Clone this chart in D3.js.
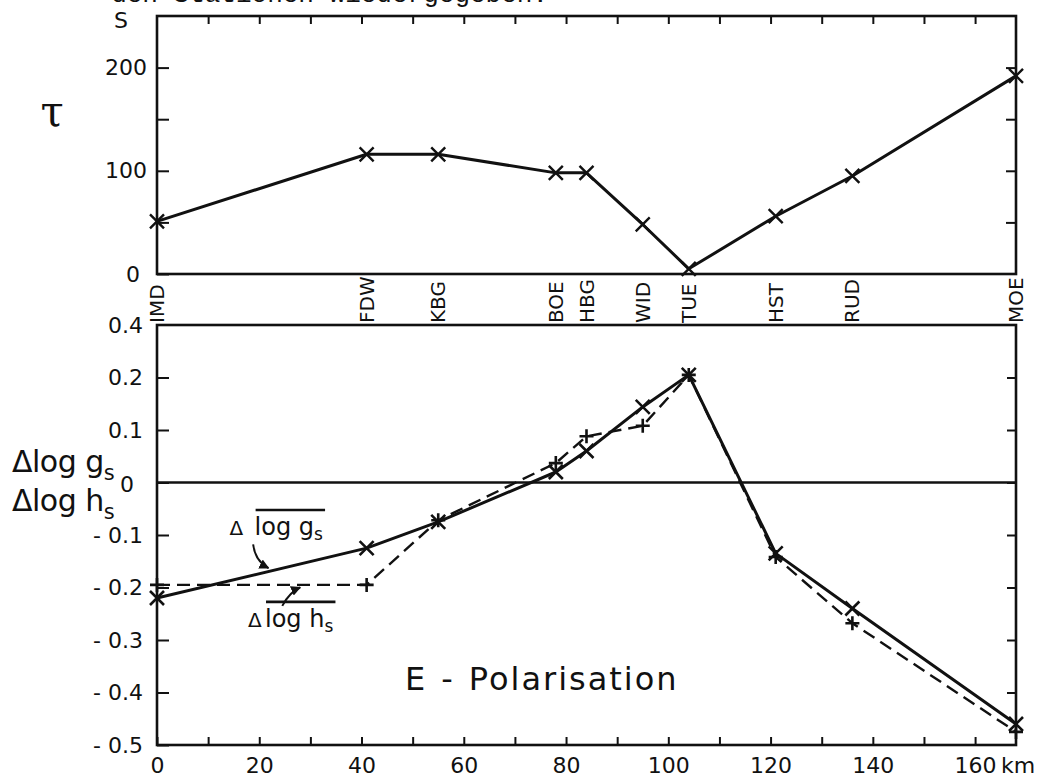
<!DOCTYPE html>
<html>
<head>
<meta charset="utf-8">
<script src="https://cdn.jsdelivr.net/npm/d3@7"></script>
<style>
  body { margin: 0; background: #fff; }
  svg { display: block; }
  text { font-family: "DejaVu Sans", sans-serif; fill: #111; }
</style>
</head>
<body>
<div id="chart"></div>
<script>
// stations along the profile, distance in km from IMD
var stations = ['IMD', 'FDW', 'KBG', 'BOE', 'HBG', 'WID', 'TUE', 'HST', 'RUD', 'MOE'];
var distKm = [0, 41, 55, 78, 84, 95, 104, 121, 136, 168];
// tau in s (upper panel)
var tau = [51, 116, 116, 98, 98, 48, 5, 56, 95, 192];
// E-polarisation, mean delta log g_s (solid) and delta log h_s (dashed)
var dLogG = [-0.22, -0.125, -0.075, 0.02, 0.06, 0.144, 0.205, -0.135, -0.24, -0.46];
var dLogH = [-0.195, -0.195, -0.072, 0.037, 0.088, 0.108, 0.205, -0.142, -0.268, -0.475];

var kmTicks = d3.range(0, 161, 10);
var tauTicks = [0, 50, 100, 150, 200];
var tauTickLabels = ['0', '', '100', '', '200'];
var logTicks = [0.3, 0.2, 0.1, 0, -0.1, -0.2, -0.3, -0.4, -0.5];
var logTickLabels = ['0.4', '0.2', '0.1', '0', '- 0.1', '- 0.2', '- 0.3', '- 0.4', '- 0.5'];

var width = 1037;
var height = 778;
var ink = '#111';

var svg = d3.select('#chart').append('svg')
    .attr('width', width)
    .attr('height', height);

// page text cut off at the top of the scan
svg.append('text')
    .attr('x', 548).attr('y', 2)
    .attr('text-anchor', 'end')
    .style('font-family', '"Liberation Mono", monospace')
    .style('font-size', '26px')
    .text('den Stationen wiedergegeben:');

var x = d3.scaleLinear().domain([0, 168]).range([157, 1016]);
var yTau = d3.scaleLinear().domain([0, 250]).range([274, 16]);
var yLog = d3.scaleLinear().domain([-0.5, 0.3]).range([745, 325]);

function frame(y) {
    svg.append('rect')
        .attr('x', x.range()[0]).attr('y', y.range()[1])
        .attr('width', x.range()[1] - x.range()[0])
        .attr('height', y.range()[0] - y.range()[1])
        .attr('fill', 'none').attr('stroke', ink).attr('stroke-width', 2.6);
}

function styleAxis(g, size) {
    g.select('.domain').remove();
    g.selectAll('.tick line').attr('stroke', ink).attr('stroke-width', 2);
    g.selectAll('.tick text').style('font-size', size + 'px').attr('fill', ink);
}

function crossPath(cx, cy, r) {
    return 'M' + (cx - r) + ',' + (cy - r) + 'L' + (cx + r) + ',' + (cy + r) +
        'M' + (cx - r) + ',' + (cy + r) + 'L' + (cx + r) + ',' + (cy - r);
}
function plusPath(cx, cy, r) {
    return 'M' + (cx - r) + ',' + cy + 'L' + (cx + r) + ',' + cy +
        'M' + cx + ',' + (cy - r) + 'L' + cx + ',' + (cy + r);
}

// ---------- upper panel: tau ----------
frame(yTau);

svg.append('g')
    .attr('transform', 'translate(0,' + yTau.range()[1] + ')')
    .call(d3.axisTop(x).tickValues(kmTicks.slice(1)).tickSizeInner(-8).tickSizeOuter(0).tickFormat(''))
    .call(styleAxis, 20);

svg.append('g')
    .attr('transform', 'translate(' + x.range()[0] + ',0)')
    .call(d3.axisLeft(yTau).tickValues(tauTicks).tickSizeInner(-12).tickSizeOuter(0).tickPadding(10)
        .tickFormat(function (d, i) { return tauTickLabels[i]; }))
    .call(styleAxis, 22)
    .call(function (g) {
        g.selectAll('.tick text').filter(function (d) { return d === 0; }).attr('dx', -7);
    });

svg.append('g')
    .attr('transform', 'translate(' + x.range()[1] + ',0)')
    .call(d3.axisRight(yTau).tickValues(tauTicks.slice(1)).tickSizeInner(-10).tickSizeOuter(0).tickFormat(''))
    .call(styleAxis, 20);

svg.append('text')
    .attr('x', 121).attr('y', 28)
    .attr('text-anchor', 'middle')
    .style('font-size', '22px')
    .text('S');

svg.append('text')
    .attr('x', 52).attr('y', 126)
    .attr('text-anchor', 'middle')
    .style('font-size', '42px')
    .style('font-family', '"DejaVu Serif", serif')
    .text('\u03c4');

var tauData = distKm.map(function (d, i) { return { km: d, v: tau[i] }; });

svg.append('path')
    .datum(tauData)
    .attr('fill', 'none').attr('stroke', ink).attr('stroke-width', 3)
    .attr('stroke-linejoin', 'round')
    .attr('d', d3.line().x(function (d) { return x(d.km); }).y(function (d) { return yTau(d.v); }));

svg.selectAll('.tauMark')
    .data(tauData)
    .enter().append('path')
    .attr('class', 'tauMark')
    .attr('fill', 'none').attr('stroke', ink).attr('stroke-width', 2.4)
    .attr('d', function (d) { return crossPath(x(d.km), yTau(d.v), 7); });

// station names between the panels
svg.selectAll('.station')
    .data(stations)
    .enter().append('text')
    .attr('class', 'station')
    .attr('transform', function (d, i) { return 'translate(' + (x(distKm[i]) + 7) + ',323) rotate(-90)'; })
    .style('font-size', '20px')
    .text(function (d) { return d; });

// ---------- lower panel: delta log g_s / h_s ----------
frame(yLog);

svg.append('line')
    .attr('x1', x.range()[0]).attr('x2', x.range()[1])
    .attr('y1', yLog(0)).attr('y2', yLog(0))
    .attr('stroke', ink).attr('stroke-width', 2.6);

svg.append('g')
    .attr('transform', 'translate(0,' + yLog.range()[0] + ')')
    .call(d3.axisBottom(x).tickValues(kmTicks).tickSizeInner(-8).tickSizeOuter(0).tickPadding(12)
        .tickFormat(function (d) { return d % 20 === 0 ? d : ''; }))
    .call(styleAxis, 22);

svg.append('text')
    .attr('x', x(160) + 26).attr('y', yLog.range()[0] + 28)
    .style('font-size', '22px')
    .text('km');

svg.append('g')
    .attr('transform', 'translate(' + x.range()[0] + ',0)')
    .call(d3.axisLeft(yLog).tickValues(logTicks).tickSizeInner(-12).tickSizeOuter(0).tickPadding(14)
        .tickFormat(function (d, i) { return logTickLabels[i]; }))
    .call(styleAxis, 22)
    .call(function (g) {
        g.selectAll('.tick text').filter(function (d) { return d === 0; }).attr('dx', -9).attr('dy', '0.4em');
        g.selectAll('.tick line').filter(function (d) { return d === 0.3; }).remove();
    });

svg.append('g')
    .attr('transform', 'translate(' + x.range()[1] + ',0)')
    .call(d3.axisRight(yLog).tickValues(logTicks.slice(1, -1)).tickSizeInner(-9).tickSizeOuter(0).tickFormat(''))
    .call(styleAxis, 20);

// y axis title
var yTitle = svg.append('g').style('font-size', '30px');
var t1 = yTitle.append('text').attr('x', 12).attr('y', 472).attr('letter-spacing', -0.5);
t1.append('tspan').text('\u0394log g');
t1.append('tspan').attr('dy', 8).style('font-size', '21px').text('s');
var t2 = yTitle.append('text').attr('x', 12).attr('y', 511).attr('letter-spacing', -0.5);
t2.append('tspan').text('\u0394log h');
t2.append('tspan').attr('dy', 8).style('font-size', '21px').text('s');

var gData = distKm.map(function (d, i) { return { km: d, v: dLogG[i] }; });
var hData = distKm.map(function (d, i) { return { km: d, v: dLogH[i] }; });
var logLine = d3.line().x(function (d) { return x(d.km); }).y(function (d) { return yLog(d.v); });

svg.append('path')
    .datum(hData)
    .attr('fill', 'none').attr('stroke', ink).attr('stroke-width', 2.4)
    .attr('stroke-dasharray', '13,7')
    .attr('d', logLine);

svg.append('path')
    .datum(gData)
    .attr('fill', 'none').attr('stroke', ink).attr('stroke-width', 3)
    .attr('stroke-linejoin', 'round')
    .attr('d', logLine);

svg.selectAll('.hMark')
    .data(hData)
    .enter().append('path')
    .attr('class', 'hMark')
    .attr('fill', 'none').attr('stroke', ink).attr('stroke-width', 2.6)
    .attr('d', function (d) { return plusPath(x(d.km), yLog(d.v), 7); });

svg.selectAll('.gMark')
    .data(gData)
    .enter().append('path')
    .attr('class', 'gMark')
    .attr('fill', 'none').attr('stroke', ink).attr('stroke-width', 2.6)
    .attr('d', function (d) { return crossPath(x(d.km), yLog(d.v), 7); });

// curve labels with overline and arrow
function curveLabel(km, v, letter, gap) {
    var g = svg.append('g');
    var px = x(km), py = yLog(v);
    g.append('text').attr('x', px).attr('y', py).style('font-size', '20px').text('\u0394');
    var t = g.append('text').attr('x', px + gap).attr('y', py).style('font-size', '24px');
    t.append('tspan').text('log ' + letter);
    t.append('tspan').attr('dy', 5).style('font-size', '17px').text('s');
    var b = t.node().getBBox();
    g.append('line')
        .attr('x1', b.x + 1).attr('x2', b.x + b.width + 2)
        .attr('y1', py - 25).attr('y2', py - 25)
        .attr('stroke', ink).attr('stroke-width', 2.6);
}
curveLabel(14.2, -0.1, 'g', 25);
curveLabel(17.8, -0.275, 'h', 17);

svg.append('defs').append('marker')
    .attr('id', 'arrow')
    .attr('viewBox', '0 0 10 10')
    .attr('refX', 9).attr('refY', 5)
    .attr('markerWidth', 5).attr('markerHeight', 5)
    .attr('orient', 'auto')
    .append('path').attr('d', 'M0,0L10,5L0,10z').attr('fill', ink);

function arrow(k0, v0, kc, vc, k1, v1) {
    var p = d3.path();
    p.moveTo(x(k0), yLog(v0));
    p.quadraticCurveTo(x(kc), yLog(vc), x(k1), yLog(v1));
    svg.append('path')
        .attr('d', p.toString())
        .attr('fill', 'none').attr('stroke', ink).attr('stroke-width', 2)
        .attr('marker-end', 'url(#arrow)');
}
arrow(18.8, -0.118, 19.2, -0.15, 21.8, -0.163);
arrow(24.5, -0.235, 26, -0.208, 28, -0.2);

var pol = svg.append('text')
    .attr('x', x(48.5)).attr('y', yLog(-0.395))
    .style('font-size', '32px')
    .attr('letter-spacing', 2);
pol.append('tspan').text('E');
pol.append('tspan').attr('dx', 14).text('-');
pol.append('tspan').attr('dx', 14).text('Polarisation');
</script>
</body>
</html>
